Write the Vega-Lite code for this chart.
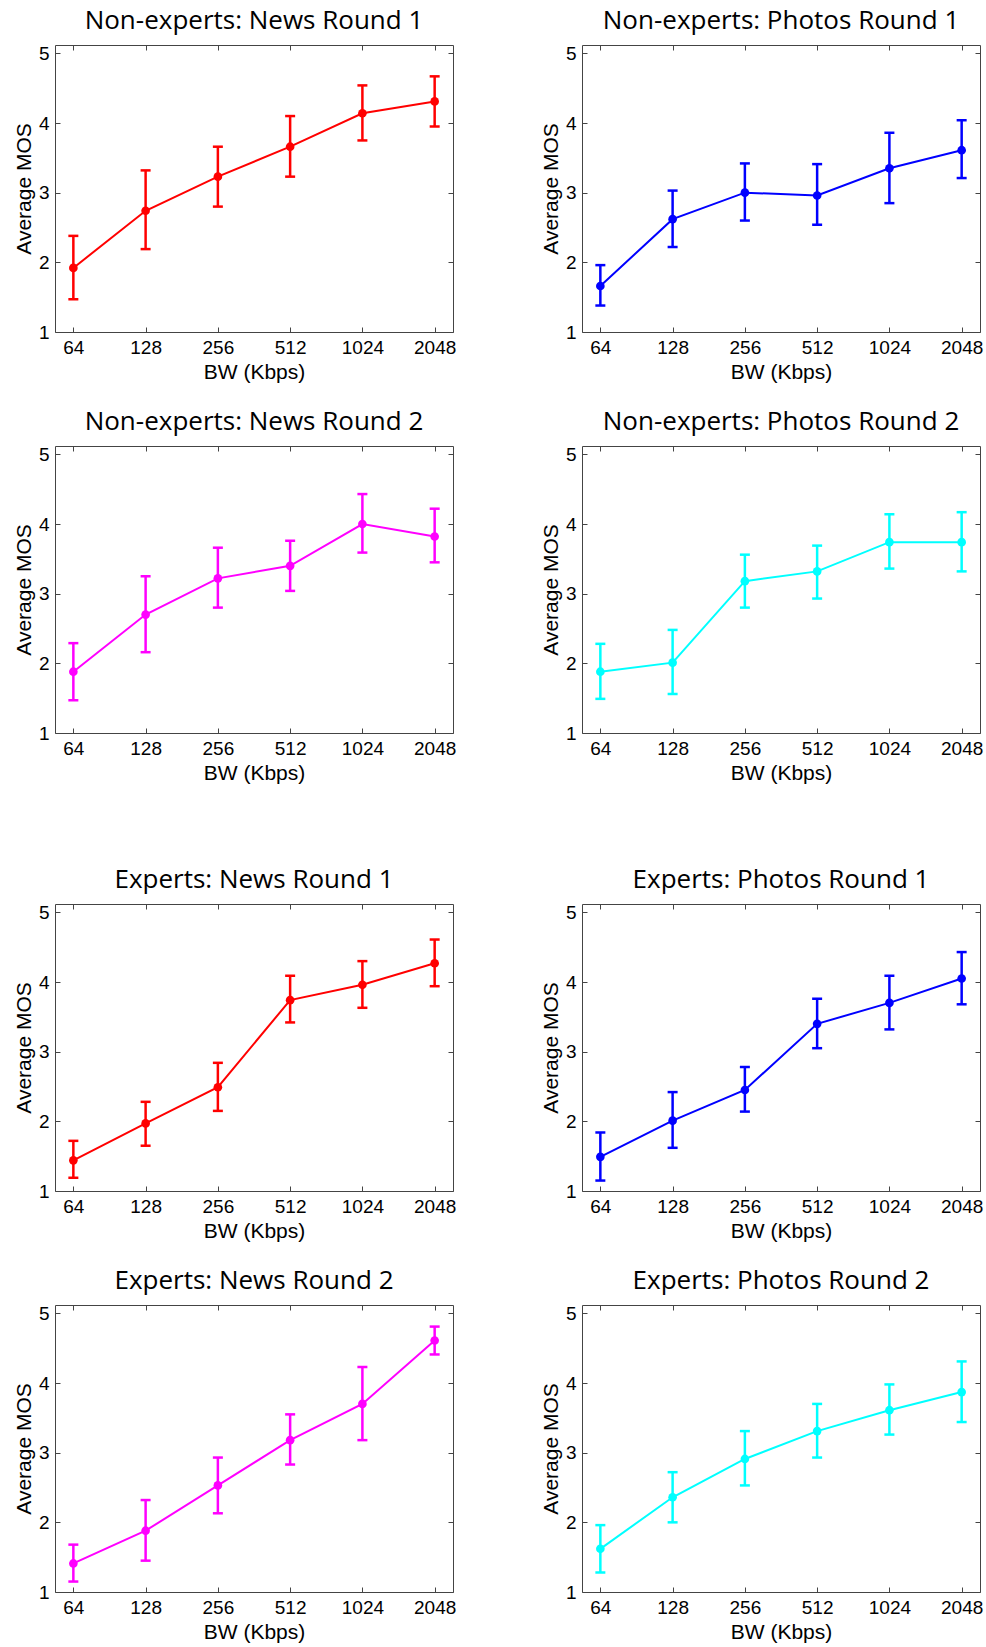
{
  "$schema": "https://vega.github.io/schema/vega-lite/v6.json",
  "background": "white",
  "padding": {"left": 12, "top": 7, "right": 5, "bottom": 5},
  "datasets": {
    "mos": [
      {"panel": "NE-News-1", "bw": 64, "mos": 1.92, "lo": 1.47, "hi": 2.38},
      {"panel": "NE-News-1", "bw": 128, "mos": 2.74, "lo": 2.19, "hi": 3.32},
      {"panel": "NE-News-1", "bw": 256, "mos": 3.23, "lo": 2.80, "hi": 3.66},
      {"panel": "NE-News-1", "bw": 512, "mos": 3.66, "lo": 3.23, "hi": 4.10},
      {"panel": "NE-News-1", "bw": 1024, "mos": 4.14, "lo": 3.75, "hi": 4.54},
      {"panel": "NE-News-1", "bw": 2048, "mos": 4.31, "lo": 3.95, "hi": 4.67},
      {"panel": "NE-Photos-1", "bw": 64, "mos": 1.66, "lo": 1.38, "hi": 1.96},
      {"panel": "NE-Photos-1", "bw": 128, "mos": 2.62, "lo": 2.22, "hi": 3.03},
      {"panel": "NE-Photos-1", "bw": 256, "mos": 3.00, "lo": 2.60, "hi": 3.42},
      {"panel": "NE-Photos-1", "bw": 512, "mos": 2.96, "lo": 2.54, "hi": 3.41},
      {"panel": "NE-Photos-1", "bw": 1024, "mos": 3.35, "lo": 2.85, "hi": 3.86},
      {"panel": "NE-Photos-1", "bw": 2048, "mos": 3.61, "lo": 3.21, "hi": 4.04},
      {"panel": "NE-News-2", "bw": 64, "mos": 1.88, "lo": 1.47, "hi": 2.29},
      {"panel": "NE-News-2", "bw": 128, "mos": 2.70, "lo": 2.16, "hi": 3.25},
      {"panel": "NE-News-2", "bw": 256, "mos": 3.22, "lo": 2.80, "hi": 3.66},
      {"panel": "NE-News-2", "bw": 512, "mos": 3.40, "lo": 3.04, "hi": 3.76},
      {"panel": "NE-News-2", "bw": 1024, "mos": 4.00, "lo": 3.59, "hi": 4.43},
      {"panel": "NE-News-2", "bw": 2048, "mos": 3.82, "lo": 3.45, "hi": 4.22},
      {"panel": "NE-Photos-2", "bw": 64, "mos": 1.88, "lo": 1.49, "hi": 2.28},
      {"panel": "NE-Photos-2", "bw": 128, "mos": 2.01, "lo": 1.56, "hi": 2.48},
      {"panel": "NE-Photos-2", "bw": 256, "mos": 3.18, "lo": 2.80, "hi": 3.56},
      {"panel": "NE-Photos-2", "bw": 512, "mos": 3.32, "lo": 2.93, "hi": 3.69},
      {"panel": "NE-Photos-2", "bw": 1024, "mos": 3.74, "lo": 3.36, "hi": 4.14},
      {"panel": "NE-Photos-2", "bw": 2048, "mos": 3.74, "lo": 3.32, "hi": 4.17},
      {"panel": "E-News-1", "bw": 64, "mos": 1.44, "lo": 1.19, "hi": 1.72},
      {"panel": "E-News-1", "bw": 128, "mos": 1.97, "lo": 1.65, "hi": 2.28},
      {"panel": "E-News-1", "bw": 256, "mos": 2.49, "lo": 2.15, "hi": 2.84},
      {"panel": "E-News-1", "bw": 512, "mos": 3.74, "lo": 3.42, "hi": 4.09},
      {"panel": "E-News-1", "bw": 1024, "mos": 3.96, "lo": 3.63, "hi": 4.30},
      {"panel": "E-News-1", "bw": 2048, "mos": 4.27, "lo": 3.94, "hi": 4.61},
      {"panel": "E-Photos-1", "bw": 64, "mos": 1.49, "lo": 1.15, "hi": 1.84},
      {"panel": "E-Photos-1", "bw": 128, "mos": 2.01, "lo": 1.62, "hi": 2.42},
      {"panel": "E-Photos-1", "bw": 256, "mos": 2.45, "lo": 2.14, "hi": 2.78},
      {"panel": "E-Photos-1", "bw": 512, "mos": 3.40, "lo": 3.05, "hi": 3.76},
      {"panel": "E-Photos-1", "bw": 1024, "mos": 3.70, "lo": 3.32, "hi": 4.09},
      {"panel": "E-Photos-1", "bw": 2048, "mos": 4.05, "lo": 3.68, "hi": 4.43},
      {"panel": "E-News-2", "bw": 64, "mos": 1.41, "lo": 1.15, "hi": 1.68},
      {"panel": "E-News-2", "bw": 128, "mos": 1.88, "lo": 1.45, "hi": 2.32},
      {"panel": "E-News-2", "bw": 256, "mos": 2.53, "lo": 2.13, "hi": 2.93},
      {"panel": "E-News-2", "bw": 512, "mos": 3.18, "lo": 2.83, "hi": 3.55},
      {"panel": "E-News-2", "bw": 1024, "mos": 3.70, "lo": 3.18, "hi": 4.23},
      {"panel": "E-News-2", "bw": 2048, "mos": 4.61, "lo": 4.41, "hi": 4.81},
      {"panel": "E-Photos-2", "bw": 64, "mos": 1.62, "lo": 1.28, "hi": 1.96},
      {"panel": "E-Photos-2", "bw": 128, "mos": 2.36, "lo": 2.00, "hi": 2.72},
      {"panel": "E-Photos-2", "bw": 256, "mos": 2.91, "lo": 2.53, "hi": 3.31},
      {"panel": "E-Photos-2", "bw": 512, "mos": 3.31, "lo": 2.93, "hi": 3.70},
      {"panel": "E-Photos-2", "bw": 1024, "mos": 3.61, "lo": 3.26, "hi": 3.98},
      {"panel": "E-Photos-2", "bw": 2048, "mos": 3.87, "lo": 3.44, "hi": 4.31}
    ]
  },
  "config": {
    "font": "Liberation Sans",
    "view": {"stroke": "#444444", "strokeWidth": 1},
    "axis": {"grid": false, "domain": false, "tickSize": -5, "tickColor": "#444444", "tickWidth": 1, "labelFont": "Liberation Sans", "labelFontSize": 19, "labelColor": "#000000", "labelPadding": 11, "labelFlush": false, "labelOverlap": false, "titleFont": "Liberation Sans", "titleFontSize": 21, "titleFontWeight": "normal", "titleColor": "#000000", "titlePadding": 4},
    "title": {"font": "Open Sans", "fontSize": 26, "fontWeight": "normal", "color": "#000000", "offset": 10, "anchor": "middle"}
  },
  "spacing": 82,
  "vconcat": [
    {"spacing": 25, "vconcat": [
      {"spacing": 82, "hconcat": [
        {"title": "Non-experts: News Round 1", "width": 398, "height": 287, "data": {"name": "mos"}, "transform": [{"filter": "datum.panel === 'NE-News-1'"}],
          "layer": [
            {"mark": {"type": "rule", "color": "#ff0000", "strokeWidth": 2.5}, "encoding": {"x": {"field": "bw", "type": "quantitative", "scale": {"type": "log", "base": 2, "domain": [53.67, 2442], "nice": false}, "axis": null}, "y": {"field": "lo", "type": "quantitative", "scale": {"domain": [1, 5.12], "nice": false, "zero": false}, "axis": null}, "y2": {"field": "hi"}}},
            {"mark": {"type": "tick", "orient": "horizontal", "color": "#ff0000", "size": 10, "thickness": 2.5, "opacity": 1}, "encoding": {"x": {"field": "bw", "type": "quantitative", "axis": null}, "y": {"field": "lo", "type": "quantitative", "axis": null}}},
            {"mark": {"type": "tick", "orient": "horizontal", "color": "#ff0000", "size": 10, "thickness": 2.5, "opacity": 1}, "encoding": {"x": {"field": "bw", "type": "quantitative", "axis": null}, "y": {"field": "hi", "type": "quantitative", "axis": null}}},
            {"mark": {"type": "line", "color": "#ff0000", "strokeWidth": 2}, "encoding": {"x": {"field": "bw", "type": "quantitative", "axis": {"orient": "bottom", "values": [64, 128, 256, 512, 1024, 2048], "format": "d", "title": "BW (Kbps)"}}, "y": {"field": "mos", "type": "quantitative", "axis": {"orient": "left", "values": [1, 2, 3, 4, 5], "format": "d", "title": "Average MOS"}}}},
            {"mark": {"type": "point", "filled": true, "color": "#ff0000", "size": 75, "opacity": 1}, "encoding": {"x": {"field": "bw", "type": "quantitative", "axis": {"orient": "top", "values": [64, 128, 256, 512, 1024, 2048], "labels": false, "title": null}}, "y": {"field": "mos", "type": "quantitative", "axis": {"orient": "right", "values": [1, 2, 3, 4, 5], "labels": false, "title": null}}}}
          ]},
        {"title": "Non-experts: Photos Round 1", "width": 398, "height": 287, "data": {"name": "mos"}, "transform": [{"filter": "datum.panel === 'NE-Photos-1'"}],
          "layer": [
            {"mark": {"type": "rule", "color": "#0000ff", "strokeWidth": 2.5}, "encoding": {"x": {"field": "bw", "type": "quantitative", "scale": {"type": "log", "base": 2, "domain": [53.67, 2442], "nice": false}, "axis": null}, "y": {"field": "lo", "type": "quantitative", "scale": {"domain": [1, 5.12], "nice": false, "zero": false}, "axis": null}, "y2": {"field": "hi"}}},
            {"mark": {"type": "tick", "orient": "horizontal", "color": "#0000ff", "size": 10, "thickness": 2.5, "opacity": 1}, "encoding": {"x": {"field": "bw", "type": "quantitative", "axis": null}, "y": {"field": "lo", "type": "quantitative", "axis": null}}},
            {"mark": {"type": "tick", "orient": "horizontal", "color": "#0000ff", "size": 10, "thickness": 2.5, "opacity": 1}, "encoding": {"x": {"field": "bw", "type": "quantitative", "axis": null}, "y": {"field": "hi", "type": "quantitative", "axis": null}}},
            {"mark": {"type": "line", "color": "#0000ff", "strokeWidth": 2}, "encoding": {"x": {"field": "bw", "type": "quantitative", "axis": {"orient": "bottom", "values": [64, 128, 256, 512, 1024, 2048], "format": "d", "title": "BW (Kbps)"}}, "y": {"field": "mos", "type": "quantitative", "axis": {"orient": "left", "values": [1, 2, 3, 4, 5], "format": "d", "title": "Average MOS"}}}},
            {"mark": {"type": "point", "filled": true, "color": "#0000ff", "size": 75, "opacity": 1}, "encoding": {"x": {"field": "bw", "type": "quantitative", "axis": {"orient": "top", "values": [64, 128, 256, 512, 1024, 2048], "labels": false, "title": null}}, "y": {"field": "mos", "type": "quantitative", "axis": {"orient": "right", "values": [1, 2, 3, 4, 5], "labels": false, "title": null}}}}
          ]}
      ]},
      {"spacing": 82, "hconcat": [
        {"title": "Non-experts: News Round 2", "width": 398, "height": 287, "data": {"name": "mos"}, "transform": [{"filter": "datum.panel === 'NE-News-2'"}],
          "layer": [
            {"mark": {"type": "rule", "color": "#ff00ff", "strokeWidth": 2.5}, "encoding": {"x": {"field": "bw", "type": "quantitative", "scale": {"type": "log", "base": 2, "domain": [53.67, 2442], "nice": false}, "axis": null}, "y": {"field": "lo", "type": "quantitative", "scale": {"domain": [1, 5.12], "nice": false, "zero": false}, "axis": null}, "y2": {"field": "hi"}}},
            {"mark": {"type": "tick", "orient": "horizontal", "color": "#ff00ff", "size": 10, "thickness": 2.5, "opacity": 1}, "encoding": {"x": {"field": "bw", "type": "quantitative", "axis": null}, "y": {"field": "lo", "type": "quantitative", "axis": null}}},
            {"mark": {"type": "tick", "orient": "horizontal", "color": "#ff00ff", "size": 10, "thickness": 2.5, "opacity": 1}, "encoding": {"x": {"field": "bw", "type": "quantitative", "axis": null}, "y": {"field": "hi", "type": "quantitative", "axis": null}}},
            {"mark": {"type": "line", "color": "#ff00ff", "strokeWidth": 2}, "encoding": {"x": {"field": "bw", "type": "quantitative", "axis": {"orient": "bottom", "values": [64, 128, 256, 512, 1024, 2048], "format": "d", "title": "BW (Kbps)"}}, "y": {"field": "mos", "type": "quantitative", "axis": {"orient": "left", "values": [1, 2, 3, 4, 5], "format": "d", "title": "Average MOS"}}}},
            {"mark": {"type": "point", "filled": true, "color": "#ff00ff", "size": 75, "opacity": 1}, "encoding": {"x": {"field": "bw", "type": "quantitative", "axis": {"orient": "top", "values": [64, 128, 256, 512, 1024, 2048], "labels": false, "title": null}}, "y": {"field": "mos", "type": "quantitative", "axis": {"orient": "right", "values": [1, 2, 3, 4, 5], "labels": false, "title": null}}}}
          ]},
        {"title": "Non-experts: Photos Round 2", "width": 398, "height": 287, "data": {"name": "mos"}, "transform": [{"filter": "datum.panel === 'NE-Photos-2'"}],
          "layer": [
            {"mark": {"type": "rule", "color": "#00ffff", "strokeWidth": 2.5}, "encoding": {"x": {"field": "bw", "type": "quantitative", "scale": {"type": "log", "base": 2, "domain": [53.67, 2442], "nice": false}, "axis": null}, "y": {"field": "lo", "type": "quantitative", "scale": {"domain": [1, 5.12], "nice": false, "zero": false}, "axis": null}, "y2": {"field": "hi"}}},
            {"mark": {"type": "tick", "orient": "horizontal", "color": "#00ffff", "size": 10, "thickness": 2.5, "opacity": 1}, "encoding": {"x": {"field": "bw", "type": "quantitative", "axis": null}, "y": {"field": "lo", "type": "quantitative", "axis": null}}},
            {"mark": {"type": "tick", "orient": "horizontal", "color": "#00ffff", "size": 10, "thickness": 2.5, "opacity": 1}, "encoding": {"x": {"field": "bw", "type": "quantitative", "axis": null}, "y": {"field": "hi", "type": "quantitative", "axis": null}}},
            {"mark": {"type": "line", "color": "#00ffff", "strokeWidth": 2}, "encoding": {"x": {"field": "bw", "type": "quantitative", "axis": {"orient": "bottom", "values": [64, 128, 256, 512, 1024, 2048], "format": "d", "title": "BW (Kbps)"}}, "y": {"field": "mos", "type": "quantitative", "axis": {"orient": "left", "values": [1, 2, 3, 4, 5], "format": "d", "title": "Average MOS"}}}},
            {"mark": {"type": "point", "filled": true, "color": "#00ffff", "size": 75, "opacity": 1}, "encoding": {"x": {"field": "bw", "type": "quantitative", "axis": {"orient": "top", "values": [64, 128, 256, 512, 1024, 2048], "labels": false, "title": null}}, "y": {"field": "mos", "type": "quantitative", "axis": {"orient": "right", "values": [1, 2, 3, 4, 5], "labels": false, "title": null}}}}
          ]}
      ]}
    ]},
    {"spacing": 25, "vconcat": [
      {"spacing": 82, "hconcat": [
        {"title": "Experts: News Round 1", "width": 398, "height": 287, "data": {"name": "mos"}, "transform": [{"filter": "datum.panel === 'E-News-1'"}],
          "layer": [
            {"mark": {"type": "rule", "color": "#ff0000", "strokeWidth": 2.5}, "encoding": {"x": {"field": "bw", "type": "quantitative", "scale": {"type": "log", "base": 2, "domain": [53.67, 2442], "nice": false}, "axis": null}, "y": {"field": "lo", "type": "quantitative", "scale": {"domain": [1, 5.12], "nice": false, "zero": false}, "axis": null}, "y2": {"field": "hi"}}},
            {"mark": {"type": "tick", "orient": "horizontal", "color": "#ff0000", "size": 10, "thickness": 2.5, "opacity": 1}, "encoding": {"x": {"field": "bw", "type": "quantitative", "axis": null}, "y": {"field": "lo", "type": "quantitative", "axis": null}}},
            {"mark": {"type": "tick", "orient": "horizontal", "color": "#ff0000", "size": 10, "thickness": 2.5, "opacity": 1}, "encoding": {"x": {"field": "bw", "type": "quantitative", "axis": null}, "y": {"field": "hi", "type": "quantitative", "axis": null}}},
            {"mark": {"type": "line", "color": "#ff0000", "strokeWidth": 2}, "encoding": {"x": {"field": "bw", "type": "quantitative", "axis": {"orient": "bottom", "values": [64, 128, 256, 512, 1024, 2048], "format": "d", "title": "BW (Kbps)"}}, "y": {"field": "mos", "type": "quantitative", "axis": {"orient": "left", "values": [1, 2, 3, 4, 5], "format": "d", "title": "Average MOS"}}}},
            {"mark": {"type": "point", "filled": true, "color": "#ff0000", "size": 75, "opacity": 1}, "encoding": {"x": {"field": "bw", "type": "quantitative", "axis": {"orient": "top", "values": [64, 128, 256, 512, 1024, 2048], "labels": false, "title": null}}, "y": {"field": "mos", "type": "quantitative", "axis": {"orient": "right", "values": [1, 2, 3, 4, 5], "labels": false, "title": null}}}}
          ]},
        {"title": "Experts: Photos Round 1", "width": 398, "height": 287, "data": {"name": "mos"}, "transform": [{"filter": "datum.panel === 'E-Photos-1'"}],
          "layer": [
            {"mark": {"type": "rule", "color": "#0000ff", "strokeWidth": 2.5}, "encoding": {"x": {"field": "bw", "type": "quantitative", "scale": {"type": "log", "base": 2, "domain": [53.67, 2442], "nice": false}, "axis": null}, "y": {"field": "lo", "type": "quantitative", "scale": {"domain": [1, 5.12], "nice": false, "zero": false}, "axis": null}, "y2": {"field": "hi"}}},
            {"mark": {"type": "tick", "orient": "horizontal", "color": "#0000ff", "size": 10, "thickness": 2.5, "opacity": 1}, "encoding": {"x": {"field": "bw", "type": "quantitative", "axis": null}, "y": {"field": "lo", "type": "quantitative", "axis": null}}},
            {"mark": {"type": "tick", "orient": "horizontal", "color": "#0000ff", "size": 10, "thickness": 2.5, "opacity": 1}, "encoding": {"x": {"field": "bw", "type": "quantitative", "axis": null}, "y": {"field": "hi", "type": "quantitative", "axis": null}}},
            {"mark": {"type": "line", "color": "#0000ff", "strokeWidth": 2}, "encoding": {"x": {"field": "bw", "type": "quantitative", "axis": {"orient": "bottom", "values": [64, 128, 256, 512, 1024, 2048], "format": "d", "title": "BW (Kbps)"}}, "y": {"field": "mos", "type": "quantitative", "axis": {"orient": "left", "values": [1, 2, 3, 4, 5], "format": "d", "title": "Average MOS"}}}},
            {"mark": {"type": "point", "filled": true, "color": "#0000ff", "size": 75, "opacity": 1}, "encoding": {"x": {"field": "bw", "type": "quantitative", "axis": {"orient": "top", "values": [64, 128, 256, 512, 1024, 2048], "labels": false, "title": null}}, "y": {"field": "mos", "type": "quantitative", "axis": {"orient": "right", "values": [1, 2, 3, 4, 5], "labels": false, "title": null}}}}
          ]}
      ]},
      {"spacing": 82, "hconcat": [
        {"title": "Experts: News Round 2", "width": 398, "height": 287, "data": {"name": "mos"}, "transform": [{"filter": "datum.panel === 'E-News-2'"}],
          "layer": [
            {"mark": {"type": "rule", "color": "#ff00ff", "strokeWidth": 2.5}, "encoding": {"x": {"field": "bw", "type": "quantitative", "scale": {"type": "log", "base": 2, "domain": [53.67, 2442], "nice": false}, "axis": null}, "y": {"field": "lo", "type": "quantitative", "scale": {"domain": [1, 5.12], "nice": false, "zero": false}, "axis": null}, "y2": {"field": "hi"}}},
            {"mark": {"type": "tick", "orient": "horizontal", "color": "#ff00ff", "size": 10, "thickness": 2.5, "opacity": 1}, "encoding": {"x": {"field": "bw", "type": "quantitative", "axis": null}, "y": {"field": "lo", "type": "quantitative", "axis": null}}},
            {"mark": {"type": "tick", "orient": "horizontal", "color": "#ff00ff", "size": 10, "thickness": 2.5, "opacity": 1}, "encoding": {"x": {"field": "bw", "type": "quantitative", "axis": null}, "y": {"field": "hi", "type": "quantitative", "axis": null}}},
            {"mark": {"type": "line", "color": "#ff00ff", "strokeWidth": 2}, "encoding": {"x": {"field": "bw", "type": "quantitative", "axis": {"orient": "bottom", "values": [64, 128, 256, 512, 1024, 2048], "format": "d", "title": "BW (Kbps)"}}, "y": {"field": "mos", "type": "quantitative", "axis": {"orient": "left", "values": [1, 2, 3, 4, 5], "format": "d", "title": "Average MOS"}}}},
            {"mark": {"type": "point", "filled": true, "color": "#ff00ff", "size": 75, "opacity": 1}, "encoding": {"x": {"field": "bw", "type": "quantitative", "axis": {"orient": "top", "values": [64, 128, 256, 512, 1024, 2048], "labels": false, "title": null}}, "y": {"field": "mos", "type": "quantitative", "axis": {"orient": "right", "values": [1, 2, 3, 4, 5], "labels": false, "title": null}}}}
          ]},
        {"title": "Experts: Photos Round 2", "width": 398, "height": 287, "data": {"name": "mos"}, "transform": [{"filter": "datum.panel === 'E-Photos-2'"}],
          "layer": [
            {"mark": {"type": "rule", "color": "#00ffff", "strokeWidth": 2.5}, "encoding": {"x": {"field": "bw", "type": "quantitative", "scale": {"type": "log", "base": 2, "domain": [53.67, 2442], "nice": false}, "axis": null}, "y": {"field": "lo", "type": "quantitative", "scale": {"domain": [1, 5.12], "nice": false, "zero": false}, "axis": null}, "y2": {"field": "hi"}}},
            {"mark": {"type": "tick", "orient": "horizontal", "color": "#00ffff", "size": 10, "thickness": 2.5, "opacity": 1}, "encoding": {"x": {"field": "bw", "type": "quantitative", "axis": null}, "y": {"field": "lo", "type": "quantitative", "axis": null}}},
            {"mark": {"type": "tick", "orient": "horizontal", "color": "#00ffff", "size": 10, "thickness": 2.5, "opacity": 1}, "encoding": {"x": {"field": "bw", "type": "quantitative", "axis": null}, "y": {"field": "hi", "type": "quantitative", "axis": null}}},
            {"mark": {"type": "line", "color": "#00ffff", "strokeWidth": 2}, "encoding": {"x": {"field": "bw", "type": "quantitative", "axis": {"orient": "bottom", "values": [64, 128, 256, 512, 1024, 2048], "format": "d", "title": "BW (Kbps)"}}, "y": {"field": "mos", "type": "quantitative", "axis": {"orient": "left", "values": [1, 2, 3, 4, 5], "format": "d", "title": "Average MOS"}}}},
            {"mark": {"type": "point", "filled": true, "color": "#00ffff", "size": 75, "opacity": 1}, "encoding": {"x": {"field": "bw", "type": "quantitative", "axis": {"orient": "top", "values": [64, 128, 256, 512, 1024, 2048], "labels": false, "title": null}}, "y": {"field": "mos", "type": "quantitative", "axis": {"orient": "right", "values": [1, 2, 3, 4, 5], "labels": false, "title": null}}}}
          ]}
      ]}
    ]}
  ]
}
